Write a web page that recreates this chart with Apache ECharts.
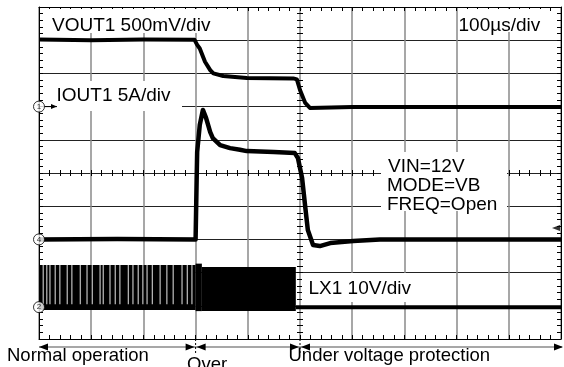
<!DOCTYPE html>
<html><head><meta charset="utf-8">
<script src="https://cdn.jsdelivr.net/npm/echarts@6/dist/echarts.min.js"></script>
<style>html,body{margin:0;padding:0;background:#fff}#c{width:564px;height:367px}</style>
</head><body><div id="c"></div>
<script>
// Time axis in microseconds (100 µs/div), vertical axis in screen divisions (0..10)
const timeRange = [0, 1000];
const timeStep = 100;
const divRange = [0, 10];

// VOUT1 (500 mV/div) trace, [µs, div]
const vout = [[0,9.02],[100,9.0],[200,9.02],[298,9.01],[303,8.86],[308,8.75],[318,8.35],[328,8.10],[334,8.00],[353,7.92],[398,7.86],[487,7.85],[494,7.82],[500,7.50],[510,7.11],[519,6.96],[600,6.99],[800,6.99],[1000,6.99]];

// IOUT1 (5 A/div) trace, [µs, div]
const iout = [[0,3.0],[150,3.01],[300,3.0],[302,4.8],[303,5.63],[308,6.45],[314,6.90],[320,6.66],[328,6.23],[333,6.05],[347,5.84],[366,5.75],[385,5.70],[398,5.66],[450,5.63],[490,5.60],[496,5.45],[504,4.85],[510,3.98],[515,3.28],[525,2.83],[538,2.80],[558,2.89],[602,2.95],[653,3.0],[1000,3.0]];

// LX1 (10 V/div) switching envelope blocks: [start µs, end µs, low div, high div]
const lxBlocks = [[0,300,0.87,2.23],[300,312,0.84,2.27],[312,492,0.84,2.17]];
// white gaps between switching bursts in normal operation (µs)
const lxGaps = [8,15,21,31,40,54,63,79,92,102,117,123,136,146,155,171,180,190,199,207,217,232,245,257,274,284,293];
const lxGapSpan = [1.05, 2.24];
// LX1 after the protection kicks in
const lxAfter = [[492,0.96],[600,0.96],[800,0.96],[1000,0.96]];

// Phase boundaries (µs) and labels
const phases = [0, 300, 500, 1000];
const phaseLabels = ['Normal operation', 'Over', 'Under voltage protection'];

// channel ground markers and trigger level
const chMarkers = [{name:'1', value:[0,7.0]}, {name:'4', value:[0,3.0]}, {name:'2', value:[0,0.96]}];
const trigLevel = 3.34;

const FONT = '"Liberation Sans", Arial, sans-serif';
const chart = echarts.init(document.getElementById('c'), null, {renderer:'canvas'});

function baseX(pos, extra) {
  return Object.assign({
    type:'value', position:pos, min:timeRange[0], max:timeRange[1], interval:timeStep,
    axisLabel:{show:false}, splitLine:{show:false},
    axisLine:{show:true, onZero:false, lineStyle:{color:'#000', width:1}},
    axisTick:{show:true, inside:true, length:4, lineStyle:{color:'#000'}},
    minorTick:{show:true, splitNumber:5, length:4, lineStyle:{color:'#000'}},
    minorSplitLine:{show:false}
  }, extra || {});
}
function baseY(pos, extra) {
  return Object.assign({
    type:'value', position:pos, min:divRange[0], max:divRange[1], interval:1,
    axisLabel:{show:false}, splitLine:{show:false},
    axisLine:{show:true, onZero:false, lineStyle:{color:'#000', width:1}},
    axisTick:{show:true, inside:true, length:4, lineStyle:{color:'#000'}},
    minorTick:{show:true, splitNumber:5, length:4, lineStyle:{color:'#000'}},
    minorSplitLine:{show:false}
  }, extra || {});
}

const option = {
  animation:false,
  backgroundColor:'#fff',
  grid:{left:39, top:7, width:522, height:332, containLabel:false, outerBoundsMode:'none'},
  xAxis:[
    baseX('bottom', {splitLine:{show:true, lineStyle:{color:'#8a8a8a', width:1.5}}}),
    baseX('top'),
    baseX('bottom', {offset:-166, axisLine:{show:false}, axisTick:{show:true, inside:true, length:3, lineStyle:{color:'#000'}}, minorTick:{show:true, splitNumber:5, length:3, lineStyle:{color:'#000'}}}),
    baseX('bottom', {offset:-166, axisLine:{show:false}, axisTick:{show:true, inside:false, length:3, lineStyle:{color:'#000'}}, minorTick:{show:true, splitNumber:5, length:3, lineStyle:{color:'#000'}}})
  ],
  yAxis:[
    baseY('left', {splitLine:{show:true, lineStyle:{color:'#222', width:1.2}}}),
    baseY('right'),
    baseY('left', {offset:-261, axisLine:{show:false}, axisTick:{show:true, inside:true, length:3, lineStyle:{color:'#000'}}, minorTick:{show:true, splitNumber:5, length:3, lineStyle:{color:'#000'}}}),
    baseY('left', {offset:-261, axisLine:{show:false}, axisTick:{show:true, inside:false, length:3, lineStyle:{color:'#000'}}, minorTick:{show:true, splitNumber:5, length:3, lineStyle:{color:'#000'}}})
  ],
  series:[
    {
      name:'LX1 bursts', type:'custom', xAxisIndex:0, yAxisIndex:0, data:lxBlocks,
      encode:{x:[0,1], y:[2,3]},
      renderItem:function(params, api){
        const p0 = api.coord([api.value(0), api.value(3)]);
        const p1 = api.coord([api.value(1), api.value(2)]);
        return {type:'rect', shape:{x:p0[0], y:p0[1], width:p1[0]-p0[0], height:p1[1]-p0[1]}, style:{fill:'#000'}};
      }, z:3
    },
    {
      name:'LX1 gaps', type:'custom', xAxisIndex:0, yAxisIndex:0, data:lxGaps.map(t=>[t]),
      encode:{x:0},
      renderItem:function(params, api){
        const p0 = api.coord([api.value(0), lxGapSpan[1]]);
        const p1 = api.coord([api.value(0), lxGapSpan[0]]);
        return {type:'rect', shape:{x:p0[0]-0.5, y:p0[1], width:1, height:p1[1]-p0[1]}, style:{fill:'#fff', opacity:0.9}};
      }, z:4
    },
    {name:'LX1', type:'line', data:lxAfter, showSymbol:false, symbol:'none', lineStyle:{color:'#000', width:4}, z:5},
    {name:'VOUT1', type:'line', data:vout, showSymbol:false, symbol:'none', lineStyle:{color:'#000', width:4, join:'round'}, z:5},
    {name:'IOUT1', type:'line', data:iout, showSymbol:false, symbol:'none', lineStyle:{color:'#000', width:4.5, join:'round'}, z:5},
    {
      name:'markers', type:'scatter', data:chMarkers, clip:false, symbol:'circle', symbolSize:11,
      itemStyle:{color:'#fff', borderColor:'#000', borderWidth:1},
      label:{show:true, position:'inside', formatter:p=>p.name, fontSize:8, color:'#000', fontFamily:FONT},
      z:20
    },
    {
      name:'trigger', type:'scatter', data:[[timeRange[1], trigLevel]], clip:false, symbol:'triangle',
      symbolSize:[6,8], symbolRotate:90, symbolOffset:[-5,0], itemStyle:{color:'#000'}, z:20
    }
  ]
};
chart.setOption(option);

// Annotations positioned from the chart's own scales
const ax = t => chart.convertToPixel({xAxisIndex:0}, t);
const ay = v => chart.convertToPixel({yAxisIndex:0}, v);
const xs = phases.map(ax);
const arrowY = 347;
const g = [];
function txt(s, x, y, size) {
  g.push({type:'text', z:110, style:{text:s, x:x, y:y, font:(size||19)+'px '+FONT, fill:'#000', verticalAlign:'middle', align:'left'}});
}
function box(x, y, w, h) {
  g.push({type:'rect', z:105, shape:{x:x, y:y, width:w, height:h}, style:{fill:'#fff'}});
}
// label boxes
box(48, 9, 182, 24); txt('VOUT1 500mV/div', 52, 25.5);
box(458, 9, 92, 23); txt('100µs/div', 458.5, 25.5);
box(55, 81, 127, 30); txt('IOUT1 5A/div', 56.5, 96);
box(381, 152, 126, 59);
txt('VIN=12V', 388, 166.5); txt('MODE=VB', 387, 186); txt('FREQ=Open', 387, 204.5);
box(302, 273, 118, 29); txt('LX1 10V/div', 308.5, 289);
// channel 1 arrow
const y1 = ay(7.0);
g.push({type:'line', z:110, shape:{x1:xs[0]+6, y1:y1, x2:57, y2:y1}, style:{stroke:'#000', lineWidth:1}});
g.push({type:'polygon', z:110, shape:{points:[[57,y1],[51,y1-2.5],[51,y1+2.5]]}, style:{fill:'#000'}});
// phase arrows
g.push({type:'line', z:100, shape:{x1:xs[0], y1:arrowY, x2:xs[3]+1, y2:arrowY}, style:{stroke:'#8a8a8a', lineWidth:1.3}});
function head(tip, dir) {
  g.push({type:'polygon', z:101, shape:{points:[[tip,arrowY],[tip-dir*9,arrowY-3.5],[tip-dir*9,arrowY+3.5]]}, style:{fill:'#000'}});
}
head(xs[0], -1); head(xs[1]-1, 1); head(xs[1]+1, -1); head(xs[2]-1, 1); head(xs[2]+1, -1); head(xs[3]+2, 1);
[xs[1], xs[2]].forEach(x => g.push({type:'line', z:101, shape:{x1:x, y1:339, x2:x, y2:353}, style:{stroke:'#000', lineWidth:1, lineDash:[2,2]}}));
txt(phaseLabels[0], 7, 355.5, 18.5);
txt(phaseLabels[1], 187, 365, 18.5);
txt(phaseLabels[2], 288.5, 355.5, 18.5);
chart.setOption({graphic:g});
</script>
</body></html>
